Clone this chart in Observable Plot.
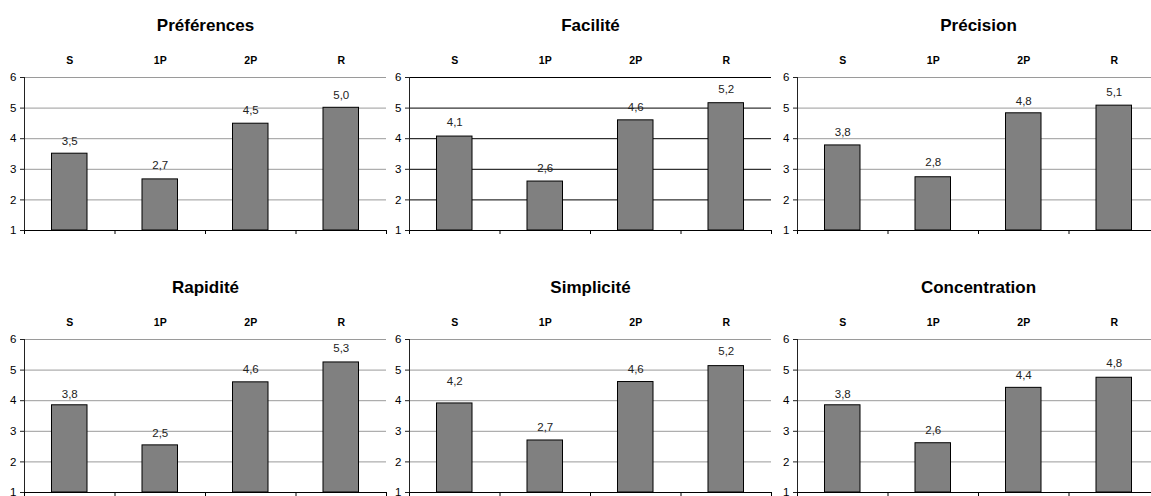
<!DOCTYPE html>
<html>
<head>
<meta charset="utf-8">
<script src="https://cdn.jsdelivr.net/npm/d3@7"></script>
<script src="https://cdn.jsdelivr.net/npm/@observablehq/plot@0.6"></script>
<style>
  html, body { margin: 0; padding: 0; background: #fff; overflow: hidden; }
  #wrap { position: relative; width: 1151px; height: 496px; overflow: hidden; background: #fff; }
  #wrap svg { position: absolute; max-width: none; overflow: visible; }
</style>
</head>
<body>
<div id="wrap"></div>
<script>
// ---- data ----
const categories = ["S", "1P", "2P", "R"];
const titles = ["Préférences", "Facilité", "Précision", "Rapidité", "Simplicité", "Concentration"];

const preferencesValues   = [3.51, 2.67, 4.49, 5.01];
const preferencesLabels   = [3.5, 2.7, 4.5, 5.0];
const faciliteValues      = [4.07, 2.60, 4.60, 5.16];
const faciliteLabels      = [4.1, 2.6, 4.6, 5.2];
const precisionValues     = [3.78, 2.74, 4.83, 5.08];
const precisionLabels     = [3.8, 2.8, 4.8, 5.1];
const rapiditeValues      = [3.85, 2.54, 4.60, 5.25];
const rapiditeLabels      = [3.8, 2.5, 4.6, 5.3];
const simpliciteValues    = [3.91, 2.70, 4.61, 5.13];
const simpliciteLabels    = [4.2, 2.7, 4.6, 5.2];
const concentrationValues = [3.85, 2.61, 4.42, 4.75];
const concentrationLabels = [3.8, 2.6, 4.4, 4.8];

const yTicks = [1, 2, 3, 4, 5, 6];

const seriesValues = [preferencesValues, faciliteValues, precisionValues, rapiditeValues, simpliciteValues, concentrationValues];
const seriesLabels = [preferencesLabels, faciliteLabels, precisionLabels, rapiditeLabels, simpliciteLabels, concentrationLabels];

// ---- layout ----
const colLeft = [0, 385, 773];
const rowTop = [0, 262];
const mL = 24, mR = 4, mT = 77, mB = 8, plotW = 362, plotH = 153;
const gridColors = ["#9a9a9a", "#000000", "#9a9a9a", "#9a9a9a", "#9a9a9a", "#9a9a9a"];
const fmt = v => d3.format(".1f")(v).replace(".", ",");

const wrap = document.getElementById("wrap");

titles.forEach((title, k) => {
  const data = categories.map((c, i) => ({
    cat: c, i, value: seriesValues[k][i], label: seriesLabels[k][i]
  }));
  const chart = Plot.plot({
    width: mL + plotW + mR,
    height: mT + plotH + mB,
    marginLeft: mL, marginRight: mR, marginTop: mT, marginBottom: mB,
    style: { fontFamily: "'Liberation Sans', Arial, sans-serif", fontSize: "11px", color: "#000", background: "transparent" },
    x: { type: "linear", domain: [0, categories.length], axis: null, label: null },
    y: { domain: [1, 6], axis: null, label: null },
    marks: [
      Plot.ruleY(yTicks.filter(t => t > 1), { stroke: gridColors[k], strokeWidth: 1 }),
      Plot.rectY(data, {
        x1: "i", x2: d => d.i + 1, y1: 1, y2: "value",
        insetLeft: 27.5, insetRight: 27.5,
        fill: "#808080", stroke: "#000", strokeWidth: 1
      }),
      Plot.text(data, {
        x: d => d.i + 0.5, y: "label", text: d => fmt(d.label),
        dy: -13, fontSize: 11.5, fill: "#222"
      }),
      Plot.ruleY([1], { stroke: "#000" }),
      Plot.ruleX([0], { y1: 1, y2: 6, stroke: "#222" }),
      Plot.axisY({ ticks: yTicks, tickSize: 4, tickPadding: 4, fontSize: 11.5, tickFormat: d => String(d), stroke: "#222", label: null }),
      Plot.axisX({ anchor: "bottom", ticks: d3.range(categories.length + 1), tickSize: 4, tickFormat: () => "", stroke: "#000", label: null }),
      Plot.axisX({
        anchor: "top", ticks: categories.map((c, i) => i + 0.5),
        tickFormat: t => categories[Math.floor(t)],
        tickSize: 0, tickPadding: 14, fontSize: 10.5, fontWeight: "bold", label: null
      }),
      Plot.text([title], { frameAnchor: "top", dy: -58.5, fontSize: 17, fontWeight: "bold", fill: "#000" })
    ]
  });
  chart.style.left = colLeft[k % 3] + "px";
  chart.style.top = rowTop[Math.floor(k / 3)] + "px";
  wrap.appendChild(chart);
});
</script>
</body>
</html>
